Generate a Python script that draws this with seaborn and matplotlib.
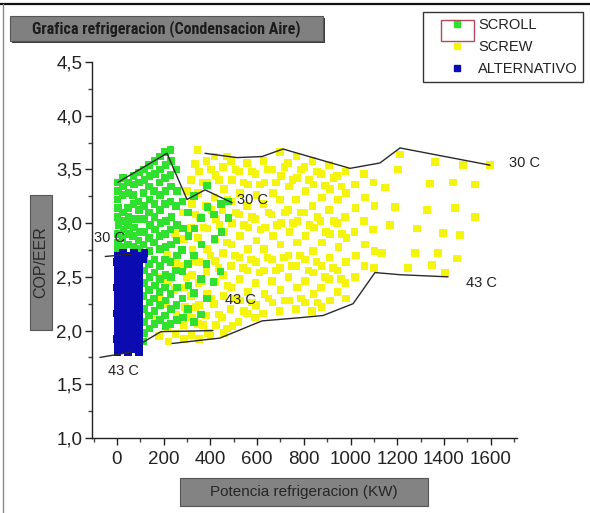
import matplotlib
matplotlib.use("Agg")
import matplotlib.pyplot as plt
import seaborn as sns
import pandas as pd
from matplotlib.patches import Rectangle
from matplotlib.lines import Line2D
from matplotlib.ticker import MultipleLocator, FuncFormatter
from matplotlib import font_manager as fm

# ---------------- data ----------------
series_names = ["SCROLL", "SCREW", "ALTERNATIVO"]
series_colors = ["#2fe02f", "#f4f40c", "#0b0bb2"]

screw_kw = [
    178, 182, 176, 181,
    214, 218, 212, 217, 220,
    248, 252, 247, 255, 250,
    283, 288, 282, 286, 290, 284, 287,
    318, 322, 317, 323, 320, 316, 321, 319,
    345, 350, 348, 353, 347, 351, 349, 352, 346, 350,
    383, 387, 382, 388, 385, 384, 386, 381, 389,
    418, 422, 417, 423, 420, 419, 421, 416, 424,
    453, 457, 452, 458, 455, 454, 456, 451, 459,
    488, 492, 487, 493, 490, 489, 491, 486, 494,
    523, 527, 522, 528, 525, 524, 526, 521,
    558, 562, 557, 563, 560, 559, 561, 556,
    593, 597, 592, 598, 595, 594, 596, 591,
    628, 632, 627, 633, 630, 629, 631, 626,
    663, 667, 662, 668, 665, 664, 666,
    698, 702, 697, 703, 700, 699, 701, 696,
    733, 737, 732, 738, 735, 734, 736,
    768, 772, 767, 773, 770, 769, 771, 766,
    803, 807, 802, 808, 805, 804, 806,
    838, 842, 837, 843, 840, 839, 841, 836,
    873, 877, 872, 878, 875, 874, 876,
    908, 912, 907, 913, 910, 909, 911,
    943, 947, 942, 948, 945, 944,
    978, 982, 977, 983, 980, 979, 981,
    1018, 1022, 1017, 1023, 1020,
    1058, 1062, 1057, 1063, 1060,
    1098, 1102, 1097, 1103, 1100,
    1135, 1148, 1169, 1191, 1203, 1212,
    1246, 1276, 1285, 1328, 1341, 1362, 1349, 1375, 1396, 1405, 1439, 1448,
    1456, 1469, 1482, 1533, 1533, 1597,
    300, 302, 298, 301,
    335, 337, 333, 336,
    368, 370, 366, 369,
    402, 404, 400, 403, 401,
    437, 439, 435, 438,
    472, 474, 470, 473, 471,
    507, 509, 505, 508,
    542, 544, 540, 543,
    577, 579, 575, 578,
    612, 614, 610,
    647, 649, 645, 648,
    682, 684, 680,
    717, 719, 715, 718,
    752, 754, 750,
    787, 789, 785, 788,
    822, 824, 820,
    857, 859, 855, 858,
    892, 894, 890,
    927, 929, 925,
    962, 964, 960,
]
screw_cop = [
    2.50, 2.30, 2.10, 1.95,
    2.70, 2.45, 2.25, 2.02, 1.90,
    2.90, 2.62, 2.38, 2.15, 1.97,
    3.10, 2.85, 2.60, 2.40, 2.22, 2.05, 1.92,
    3.40, 3.18, 2.96, 2.75, 2.52, 2.32, 2.12, 1.96,
    3.68, 3.48, 3.28, 3.06, 2.86, 2.64, 2.44, 2.24, 2.06, 1.92,
    3.58, 3.38, 3.16, 2.95, 2.76, 2.55, 2.34, 2.14, 1.98,
    3.62, 3.45, 3.24, 3.04, 2.84, 2.65, 2.45, 2.25, 2.05,
    3.52, 3.32, 3.12, 2.92, 2.72, 2.52, 2.32, 2.12, 1.98,
    3.58, 3.40, 3.20, 3.00, 2.80, 2.60, 2.40, 2.20, 2.04,
    3.48, 3.28, 3.08, 2.88, 2.68, 2.48, 2.28, 2.08,
    3.56, 3.36, 3.16, 2.96, 2.76, 2.56, 2.36, 2.16,
    3.46, 3.26, 3.04, 2.84, 2.64, 2.44, 2.24, 2.12,
    3.58, 3.38, 3.18, 2.96, 2.76, 2.56, 2.34, 2.16,
    3.50, 3.28, 3.08, 2.88, 2.66, 2.46, 2.26,
    3.66, 3.44, 3.22, 3.00, 2.80, 2.58, 2.38, 2.18,
    3.56, 3.34, 3.12, 2.92, 2.70, 2.50, 2.28,
    3.62, 3.42, 3.22, 3.02, 2.82, 2.60, 2.40, 2.20,
    3.52, 3.30, 3.10, 2.88, 2.66, 2.46, 2.26,
    3.58, 3.36, 3.16, 2.96, 2.74, 2.54, 2.34, 2.18,
    3.46, 3.24, 3.02, 2.82, 2.60, 2.40, 2.22,
    3.54, 3.32, 3.12, 2.90, 2.68, 2.48, 2.28,
    3.44, 3.22, 3.00, 2.78, 2.56, 2.36,
    3.48, 3.28, 3.06, 2.86, 2.64, 2.44, 2.30,
    3.36, 3.14, 2.92, 2.70, 2.50,
    3.46, 3.24, 3.02, 2.80, 2.60,
    3.38, 3.16, 2.94, 2.74, 2.58,
    2.72, 3.33, 2.98, 3.15, 3.50, 3.64,
    2.58, 2.72, 2.95, 3.12, 3.37, 3.57, 2.61, 2.72, 2.91, 2.54, 3.38, 3.14,
    2.67, 2.89, 3.54, 3.36, 3.06, 3.54,
    3.30, 2.95, 2.50, 2.15,
    3.55, 3.08, 2.65, 2.22,
    3.38, 2.96, 2.46, 2.05,
    3.50, 3.12, 2.70, 2.30, 1.95,
    3.40, 2.98, 2.58, 2.15,
    3.62, 3.22, 2.82, 2.42, 2.02,
    3.50, 3.10, 2.70, 2.30,
    3.38, 2.98, 2.58, 2.18,
    3.48, 3.06, 2.66, 2.26,
    3.36, 2.94, 2.54,
    3.50, 3.10, 2.68, 2.30,
    3.38, 2.98, 2.56,
    3.52, 3.10, 2.68, 2.28,
    3.40, 3.00, 2.60,
    3.50, 3.10, 2.70, 2.30,
    3.40, 2.98, 2.56,
    3.48, 3.06, 2.64, 2.26,
    3.35, 2.92, 2.50,
    3.42, 3.02, 2.58,
    3.34, 2.90, 2.48,
]

scroll_kw = [
    3, 5, 2, 4, 3, 6, 2, 5, 4,
    25, 27, 24, 26, 25, 28, 24, 26,
    48, 50, 47, 49, 48, 51, 47,
    70, 72, 69, 71, 70, 73, 69, 71,
    93, 95, 92, 94, 93, 96, 92, 94,
    115, 117, 114, 116, 115, 118, 114, 116, 115, 117, 114, 116, 115, 117, 114,
    138, 140, 137, 139, 138, 141, 137, 139, 138, 140, 137, 139, 138, 140,
    160, 162, 159, 161, 160, 163, 159, 161, 160, 162, 159, 161, 160,
    183, 185, 182, 184, 183, 186, 182, 184, 183, 185, 182, 184, 183,
    206, 208, 205, 207, 206, 209, 205, 207, 206, 208, 205, 207, 206, 208,
    230, 232, 229, 231, 230, 233, 229, 231, 230, 232, 229, 231, 230,
    255, 257, 254, 256, 255, 258, 254, 256, 255, 257,
    280, 282, 279, 281, 280, 283,
    305, 307, 304, 306, 305,
    330, 332, 329, 331, 330,
    360, 362, 359, 361,
    385, 387, 384, 386,
    415, 417, 414,
    445, 447, 444,
    475, 477,
]
scroll_cop = [
    3.38, 3.30, 3.22, 3.14, 3.06, 2.98, 2.90, 2.82, 2.76,
    3.42, 3.34, 3.26, 3.10, 3.02, 2.94, 2.86, 2.78,
    3.38, 3.28, 3.14, 3.06, 2.98, 2.90, 2.80,
    3.44, 3.36, 3.26, 3.18, 3.04, 2.96, 2.88, 2.78,
    3.47, 3.38, 3.20, 3.12, 3.04, 2.92, 2.84, 2.76,
    3.50, 3.40, 3.28, 3.16, 3.04, 2.92, 2.80, 2.68, 2.56, 2.44, 2.32, 2.20, 2.08, 1.98, 1.90,
    3.54, 3.44, 3.34, 3.22, 3.10, 2.98, 2.86, 2.74, 2.62, 2.50, 2.38, 2.26, 2.14, 2.02,
    3.58, 3.46, 3.30, 3.18, 3.06, 2.94, 2.82, 2.66, 2.54, 2.42, 2.30, 2.18, 2.06,
    3.62, 3.50, 3.38, 3.26, 3.12, 3.00, 2.88, 2.76, 2.60, 2.48, 2.36, 2.24, 2.10,
    3.66, 3.54, 3.42, 3.30, 3.18, 3.02, 2.90, 2.78, 2.66, 2.52, 2.40, 2.28, 2.14, 2.04,
    3.68, 3.58, 3.45, 3.34, 3.20, 3.06, 2.94, 2.80, 2.64, 2.50, 2.34, 2.20, 2.06,
    3.50, 3.30, 3.16, 2.98, 2.84, 2.70, 2.56, 2.40, 2.24, 2.10,
    3.20, 2.95, 2.75, 2.55, 2.30, 2.12,
    3.10, 2.88, 2.62, 2.42, 2.20,
    3.25, 2.95, 2.70, 2.35, 2.08,
    3.05, 2.80, 2.48, 2.15,
    3.35, 3.15, 2.62, 2.30,
    3.08, 2.85, 2.45,
    3.18, 2.92, 2.55,
    3.20, 3.05,
]

alt_kw = [
    2, 4, 1, 3, 2, 5, 1, 3, 2, 4, 1, 3, 2, 5, 1, 3,
    25, 27, 24, 26, 25, 28, 24, 26, 25, 27, 24, 26, 25, 28, 24, 26,
    48, 50, 47, 49, 48, 51, 47, 49, 48, 50, 47, 49, 48, 51, 47, 49,
    71, 73, 70, 72, 71, 74, 70, 72, 71, 73, 70, 72, 71, 74, 70, 72,
    94, 96, 93, 95, 94, 97, 93, 95, 94, 96, 93, 95, 94, 97, 93, 95,
    118, 112,
]
alt_cop = [
    1.80, 1.86, 1.92, 1.98, 2.04, 2.10, 2.16, 2.22, 2.28, 2.34, 2.40, 2.46, 2.52, 2.58, 2.64, 2.70,
    1.83, 1.89, 1.95, 2.01, 2.07, 2.13, 2.19, 2.25, 2.31, 2.37, 2.43, 2.49, 2.55, 2.61, 2.67, 2.72,
    1.80, 1.86, 1.92, 1.98, 2.04, 2.10, 2.16, 2.22, 2.28, 2.34, 2.40, 2.46, 2.52, 2.58, 2.64, 2.70,
    1.83, 1.89, 1.95, 2.01, 2.07, 2.13, 2.19, 2.25, 2.31, 2.37, 2.43, 2.49, 2.55, 2.61, 2.67, 2.72,
    1.80, 1.86, 1.92, 1.98, 2.04, 2.10, 2.16, 2.22, 2.28, 2.34, 2.40, 2.46, 2.52, 2.58, 2.64, 2.70,
    2.72, 2.66,
]

# boundary curves (30 C / 43 C)
screw_30_kw = [377, 514, 621, 711, 998, 1126, 1212, 1597]
screw_30_cop = [3.65, 3.61, 3.62, 3.69, 3.51, 3.56, 3.70, 3.54]
screw_43_kw = [236, 441, 621, 784, 882, 1011, 1105, 1212, 1418]
screw_43_cop = [1.88, 1.93, 2.09, 2.12, 2.14, 2.25, 2.54, 2.52, 2.50]
scroll_30_kw = [4, 214, 300, 377, 493]
scroll_30_cop = [3.38, 3.65, 3.22, 3.31, 3.19]
scroll_43_kw = [103, 188, 411]
scroll_43_cop = [1.88, 1.99, 2.00]
alt_30_kw = [-50, 60]
alt_30_cop = [2.69, 2.71]
alt_43_kw = [-73, 60]
alt_43_cop = [1.75, 1.80]

curve_labels = ["30 C", "43 C", "30 C", "43 C", "30 C", "43 C"]
x_ticks = [0, 200, 400, 600, 800, 1000, 1200, 1400, 1600]
y_ticks = [1.0, 1.5, 2.0, 2.5, 3.0, 3.5, 4.0, 4.5]

title_text = "Grafica refrigeracion (Condensacion Aire)"
xlabel_text = "Potencia refrigeracion (KW)"
ylabel_text = "COP/EER"


# ---------------- fonts ----------------
def pick(fams):
    for f in fams:
        try:
            fm.findfont(fm.FontProperties(family=f), fallback_to_default=False)
            return f
        except Exception:
            pass
    return "DejaVu Sans"


sns.set_theme(style="white")
ARIAL = pick(["Liberation Sans", "Arial", "DejaVu Sans"])
NARROW = pick(["Liberation Sans Narrow", "Roboto Condensed", "DejaVu Sans Condensed", ARIAL])
plt.rcParams["font.family"] = [ARIAL, "DejaVu Sans"]

W, H = 590, 513
fig = plt.figure(figsize=(W / 100, H / 100), dpi=100)
fig.patch.set_facecolor("white")


def fx(px):
    return px / W


def fy(py):
    return 1 - py / H


ax = fig.add_axes([fx(92), fy(438), (517 - 92) / W, (438 - 62) / H])
ax.set_facecolor("white")

# ---------------- scatter ----------------
df = pd.DataFrame({
    "kw": screw_kw + scroll_kw + alt_kw,
    "cop": screw_cop + scroll_cop + alt_cop,
    "tipo": ["SCREW"] * len(screw_kw) + ["SCROLL"] * len(scroll_kw) + ["ALTERNATIVO"] * len(alt_kw),
})
palette = dict(zip(series_names, series_colors))
sns.scatterplot(data=df, x="kw", y="cop", hue="tipo", hue_order=series_names,
                palette=palette, marker="s", s=30, linewidth=0, alpha=1.0,
                legend=False, ax=ax, zorder=2)

# ---------------- boundary lines ----------------
for xs, ys in [(screw_30_kw, screw_30_cop), (screw_43_kw, screw_43_cop),
               (scroll_30_kw, scroll_30_cop), (scroll_43_kw, scroll_43_cop),
               (alt_30_kw, alt_30_cop), (alt_43_kw, alt_43_cop)]:
    sns.lineplot(x=xs, y=ys, sort=False, estimator=None, color="#2a2a2a",
                 linewidth=1.0, ax=ax, zorder=3)

label_pos = [(1747, 3.56), (1559, 2.44), (582, 3.215), (527, 2.28), (-30, 2.86), (26, 1.626)]
for txt, (lx, ly) in zip(curve_labels, label_pos):
    ax.text(lx, ly, txt, ha="center", va="center", fontsize=10.5, color="#222222",
            zorder=4, clip_on=False)

# ---------------- axes ----------------
ax.set_xlim(-107, 1713)
ax.set_ylim(1.0, 4.5)
ax.set_xticks(x_ticks)
ax.set_yticks(y_ticks)
ax.xaxis.set_minor_locator(MultipleLocator(100))
ax.yaxis.set_minor_locator(MultipleLocator(0.25))
ax.yaxis.set_major_formatter(FuncFormatter(lambda v, p: f"{v:.1f}".replace(".", ",")))
ax.xaxis.set_major_formatter(FuncFormatter(lambda v, p: f"{v:.0f}"))
ax.tick_params(axis="both", which="major", direction="out", length=5, width=1,
               color="#222222", labelsize=13.5, labelcolor="#222222", pad=2,
               left=True, bottom=True)
ax.tick_params(axis="both", which="minor", direction="out", length=3, width=1,
               color="#444444", left=True, bottom=True)
ax.tick_params(axis="x", which="major", pad=4)
for s in ["top", "right"]:
    ax.spines[s].set_visible(False)
for s in ["left", "bottom"]:
    ax.spines[s].set_color("#222222")
    ax.spines[s].set_linewidth(1.0)
ax.set_xlabel("")
ax.set_ylabel("")
ax.grid(False)


# ---------------- boxes: title / axis labels ----------------
def gray_box(x0, y0, x1, y1, face="#7f7f7f", shadow=True):
    if shadow:
        fig.add_artist(Rectangle((fx(x0 + 2), fy(y1 + 2)), (x1 - x0) / W, (y1 - y0) / H,
                                 transform=fig.transFigure, facecolor="#3c3c3c",
                                 edgecolor="none", zorder=1))
    fig.add_artist(Rectangle((fx(x0), fy(y1)), (x1 - x0) / W, (y1 - y0) / H,
                             transform=fig.transFigure, facecolor=face,
                             edgecolor="#555555", linewidth=0.8, zorder=2))


gray_box(10, 16, 323, 41, face="#808080")
fig.text(fx(166), fy(29), title_text, ha="center", va="center", fontsize=11.5,
         fontweight="bold", family=[NARROW, "DejaVu Sans"], color="#1c1c1c", zorder=3)

gray_box(30, 195, 52, 330, face="#828282", shadow=False)
fig.text(fx(41), fy(262), ylabel_text, ha="center", va="center", rotation=90,
         fontsize=11.5, color="#2a2a2a", zorder=3)

gray_box(180, 478, 428, 506, face="#838383", shadow=False)
fig.text(fx(304), fy(492), xlabel_text, ha="center", va="center",
         fontsize=11, color="#262626", zorder=3)

# ---------------- legend ----------------
handles = [Line2D([], [], marker="s", linestyle="", color=c, markersize=5)
           for c in series_colors]
leg = fig.legend(handles, series_names, loc="upper left",
                 bbox_to_anchor=(fx(423), fy(12)), frameon=True, fancybox=False,
                 edgecolor="#333333", framealpha=1, fontsize=10.5,
                 handlelength=3.86, handletextpad=-0.49, borderpad=0.4,
                 labelspacing=0.55, borderaxespad=0)
leg.get_frame().set_linewidth(1.0)
for t in leg.get_texts():
    t.set_color("#222222")
fig.add_artist(Rectangle((fx(441), fy(41)), 33 / W, 21 / H, transform=fig.transFigure,
                         facecolor="none", edgecolor="#b04a5a", linewidth=1.0, zorder=10))

# ---------------- outer frame ----------------
fig.add_artist(Line2D([0, 1], [fy(4), fy(4)], transform=fig.transFigure,
                      color="#111111", linewidth=1.6))
fig.add_artist(Line2D([fx(3), fx(3)], [fy(4), 0], transform=fig.transFigure,
                      color="#888888", linewidth=1.0))

fig.savefig("out.png", dpi=100, facecolor="white")
